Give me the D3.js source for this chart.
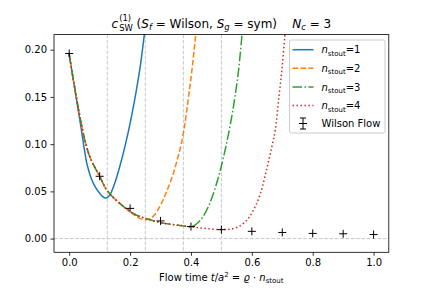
<!DOCTYPE html>
<html>
<head>
<meta charset="utf-8">
<script src="https://cdn.jsdelivr.net/npm/d3@7"></script>
<style>
	body { margin: 0; background: #fff; }
	svg text { font-family: "DejaVu Sans", sans-serif; fill: #000; }
</style>
</head>
<body>
<svg id="chart" width="432" height="288"></svg>
<script>
// Wilson flow reference points
var wilsonT = [0.0, 0.1, 0.2, 0.3, 0.4, 0.5, 0.6, 0.7, 0.8, 0.9, 1.0];
var wilsonC = [0.196, 0.066, 0.032, 0.0187, 0.0127, 0.0095, 0.0077, 0.0065, 0.0055, 0.0051, 0.0043];

// stout smearing curves
var stout1T = [0, 0.01, 0.02, 0.03, 0.04, 0.05, 0.057, 0.065, 0.073, 0.085, 0.1, 0.11, 0.122,
	0.135, 0.149, 0.165, 0.185, 0.205, 0.22, 0.235, 0.247, 0.26];
var stout1C = [0.195, 0.175, 0.155, 0.135, 0.115, 0.094, 0.081, 0.071, 0.063, 0.055, 0.048, 0.0445, 0.043,
	0.047, 0.058, 0.075, 0.100, 0.130, 0.156, 0.186, 0.2166, 0.25];

var stout2T = [0, 0.01, 0.02, 0.03, 0.04, 0.05, 0.065, 0.08, 0.1, 0.12, 0.14, 0.16, 0.19, 0.22, 0.247,
	0.265, 0.28, 0.296, 0.315, 0.33, 0.345, 0.357, 0.368, 0.378, 0.39, 0.403, 0.416, 0.425];
var stout2C = [0.195, 0.175, 0.156, 0.138, 0.121, 0.106, 0.089, 0.078, 0.066, 0.053, 0.045, 0.039, 0.031, 0.0235, 0.020,
	0.021, 0.025, 0.033, 0.046, 0.058, 0.072, 0.086, 0.100, 0.117, 0.145, 0.178, 0.2166, 0.245];

var stout3T = [0, 0.01, 0.02, 0.03, 0.04, 0.05, 0.065, 0.08, 0.1, 0.12, 0.14, 0.16, 0.19, 0.22, 0.25, 0.3, 0.35,
	0.38, 0.40, 0.42, 0.437, 0.46, 0.481, 0.50, 0.515, 0.53, 0.545, 0.557, 0.568, 0.58];
var stout3C = [0.195, 0.175, 0.156, 0.138, 0.121, 0.106, 0.089, 0.078, 0.066, 0.053, 0.045, 0.039, 0.031, 0.025, 0.0215, 0.017, 0.0145,
	0.0132, 0.0128, 0.016, 0.022, 0.036, 0.055, 0.077, 0.098, 0.122, 0.151, 0.180, 0.2166, 0.255];

var stout4T = [0, 0.01, 0.02, 0.03, 0.04, 0.05, 0.065, 0.08, 0.1, 0.12, 0.14, 0.16, 0.19, 0.22, 0.25, 0.3, 0.35, 0.4, 0.45,
	0.497, 0.52, 0.546, 0.57, 0.59, 0.605, 0.622, 0.635, 0.644, 0.655, 0.669, 0.677, 0.689, 0.70, 0.709, 0.718];
var stout4C = [0.195, 0.175, 0.156, 0.138, 0.121, 0.106, 0.089, 0.078, 0.066, 0.053, 0.045, 0.039, 0.031, 0.025, 0.0215, 0.017, 0.0145, 0.0125, 0.0107,
	0.0095, 0.0097, 0.0112, 0.0155, 0.022, 0.030, 0.042, 0.055, 0.067, 0.082, 0.102, 0.115, 0.150, 0.183, 0.2166, 0.25];

var stoutN = ["1", "2", "3", "4"];
var guideT = [0.125, 0.25, 0.375, 0.5];
var xTicks = [0.0, 0.2, 0.4, 0.6, 0.8, 1.0];
var yTicks = [0.00, 0.05, 0.10, 0.15, 0.20];

var plotL = 54, plotR = 388.8, plotT = 34.6, plotB = 252.3;

var svg = d3.select("#chart");

var x = d3.scaleLinear().domain([-0.05, 1.05]).range([plotL, plotR]);
var y = d3.scaleLinear().domain([-0.0145, 0.216]).range([plotB, plotT]);

svg.append("defs").append("clipPath")
	.attr("id", "plotclip")
	.append("rect")
	.attr("x", plotL).attr("y", plotT)
	.attr("width", plotR - plotL).attr("height", plotB - plotT);

// guide lines
var guides = svg.append("g").attr("clip-path", "url(#plotclip)");
guides.selectAll(".vguide").data(guideT).enter().append("line")
	.attr("x1", function(d) { return x(d); })
	.attr("x2", function(d) { return x(d); })
	.attr("y1", plotT).attr("y2", plotB)
	.attr("stroke", "#c8c8c8")
	.attr("stroke-width", 1)
	.attr("stroke-dasharray", "3.7,1.6");
guides.append("line")
	.attr("x1", plotL).attr("x2", plotR)
	.attr("y1", y(0)).attr("y2", y(0))
	.attr("stroke", "#c8c8c8")
	.attr("stroke-width", 1)
	.attr("stroke-dasharray", "3.7,1.6");

var series = [
	{ t: stout1T, c: stout1C, color: "#1f77b4", dash: null },
	{ t: stout2T, c: stout2C, color: "#ff7f0e", dash: "5.55,2.4" },
	{ t: stout3T, c: stout3C, color: "#2ca02c", dash: "9.6,2.4,1.5,2.4" },
	{ t: stout4T, c: stout4C, color: "#d62728", dash: "1.5,2.475" }
];

var line = d3.line()
	.x(function(d) { return x(d[0]); })
	.y(function(d) { return y(d[1]); })
	.curve(d3.curveMonotoneX);

var curves = svg.append("g").attr("clip-path", "url(#plotclip)");
series.forEach(function(s) {
	curves.append("path")
		.datum(d3.zip(s.t, s.c))
		.attr("d", line)
		.attr("fill", "none")
		.attr("stroke", s.color)
		.attr("stroke-width", 1.5)
		.attr("stroke-dasharray", s.dash);
});

// Wilson flow markers
var ms = 4;
var pts = svg.append("g").attr("clip-path", "url(#plotclip)")
	.selectAll(".pt").data(d3.zip(wilsonT, wilsonC)).enter().append("g")
	.attr("transform", function(d) { return "translate(" + x(d[0]) + "," + y(d[1]) + ")"; });
pts.append("path")
	.attr("d", "M" + (-ms) + ",0H" + ms + "M0," + (-ms) + "V" + ms)
	.attr("stroke", "#000")
	.attr("stroke-width", 1)
	.attr("fill", "none");

// axes
var xAxis = svg.append("g")
	.attr("transform", "translate(0," + plotB + ")")
	.call(d3.axisBottom(x).tickValues(xTicks).tickFormat(d3.format(".1f")).tickSize(3.5).tickPadding(3.5));
var yAxis = svg.append("g")
	.attr("transform", "translate(" + plotL + ",0)")
	.call(d3.axisLeft(y).tickValues(yTicks).tickFormat(d3.format(".2f")).tickSize(3.5).tickPadding(3.5));
[xAxis, yAxis].forEach(function(a) {
	a.select(".domain").remove();
	a.selectAll(".tick line").attr("stroke", "#000").attr("stroke-width", 0.8);
	a.selectAll(".tick text").attr("font-size", 10).attr("font-family", "DejaVu Sans").attr("fill", "#000");
});

svg.append("rect")
	.attr("x", plotL).attr("y", plotT)
	.attr("width", plotR - plotL).attr("height", plotB - plotT)
	.attr("fill", "none")
	.attr("stroke", "#000")
	.attr("stroke-width", 0.8);

// rich text in one <text>: tspans with sub/sup shifts,
// a piece with "stack" is pulled back over the previous one (sub + sup pair)
function richText(parent, pieces, size) {
	var t = parent.append("text")
		.attr("x", 0).attr("y", 0)
		.style("white-space", "pre");
	var curDy = 0, lastW = 0, carry = 0;
	pieces.forEach(function(p) {
		var fs = p.small ? size * 0.7 : size;
		var dy = 0;
		if (p.pos == "sub") dy = size * (p.stack || p.pair ? 0.3 : 0.24);
		if (p.pos == "sup") dy = -size * (p.stack || p.pair ? 0.56 : 0.42);
		var ts = t.append("tspan")
			.attr("dy", dy - curDy)
			.attr("font-size", fs)
			.attr("font-style", p.it ? "italic" : "normal")
			.text(p.s);
		var w = ts.node().getComputedTextLength();
		if (p.stack) {
			ts.attr("dx", -lastW);
			carry = Math.max(0, lastW - w);
		} else {
			var dx = carry + (p.gap || 0);
			if (dx) ts.attr("dx", dx);
			carry = 0;
		}
		curDy = dy;
		lastW = w;
	});
	return t;
}

// title
var title = richText(svg, [
	{ s: "c", it: true },
	{ s: "SW", small: true, pos: "sub", pair: true, gap: 1 },
	{ s: "(1)", small: true, pos: "sup", stack: true },
	{ s: " (" },
	{ s: "S", it: true },
	{ s: "f", it: true, small: true, pos: "sub" },
	{ s: " = Wilson, " },
	{ s: "S", it: true },
	{ s: "g", it: true, small: true, pos: "sub" },
	{ s: " = sym)    " },
	{ s: "N", it: true },
	{ s: "c", it: true, small: true, pos: "sub" },
	{ s: " = 3" }
], 12);
var tb = title.node().getBBox();
title.attr("transform", "translate(" + ((plotL + plotR) / 2 - tb.x - tb.width / 2) + ",27.5)");

// x label
var xlab = richText(svg, [
	{ s: "Flow time " },
	{ s: "t", it: true },
	{ s: "/" },
	{ s: "a", it: true },
	{ s: "2", small: true, pos: "sup" },
	{ s: " = " },
	{ s: "\u03f1", it: true },
	{ s: " \u00b7 " },
	{ s: "n", it: true },
	{ s: "stout", small: true, pos: "sub" }
], 10);
var xb = xlab.node().getBBox();
xlab.attr("transform", "translate(" + ((plotL + plotR) / 2 - xb.x - xb.width / 2) + ",281)");

// legend
var lg = svg.append("g");
var lgX = 289.5, lgY = 40, lgW = 95.5, lgH = 93;
lg.append("rect")
	.attr("x", lgX).attr("y", lgY)
	.attr("width", lgW).attr("height", lgH)
	.attr("rx", 2)
	.attr("fill", "#fff").attr("fill-opacity", 0.8)
	.attr("stroke", "#cccccc").attr("stroke-width", 1);

var rowY = [49.7, 68.3, 87, 105.5, 123.5];
series.forEach(function(s, i) {
	lg.append("line")
		.attr("x1", 292.5).attr("x2", 313.5)
		.attr("y1", rowY[i]).attr("y2", rowY[i])
		.attr("stroke", s.color)
		.attr("stroke-width", 1.5)
		.attr("stroke-dasharray", s.dash);
	var lab = richText(lg, [
		{ s: "n", it: true },
		{ s: "stout", small: true, pos: "sub" },
		{ s: "=" + stoutN[i] }
	], 10);
	lab.attr("transform", "translate(321.5," + (rowY[i] + 3.6) + ")");
});
var ey = rowY[4], ex = 303;
lg.append("path")
	.attr("d", "M" + ex + "," + (ey - 5.5) + "V" + (ey + 5.5) +
		"M" + (ex - 3) + "," + (ey - 5.5) + "H" + (ex + 3) +
		"M" + (ex - 3) + "," + (ey + 5.5) + "H" + (ex + 3) +
		"M" + (ex - 4) + "," + ey + "H" + (ex + 4))
	.attr("stroke", "#000").attr("stroke-width", 1).attr("fill", "none");
lg.append("text")
	.attr("x", 321.5).attr("y", ey + 3.6)
	.attr("font-size", 10)
	.text("Wilson Flow");
</script>
</body>
</html>
